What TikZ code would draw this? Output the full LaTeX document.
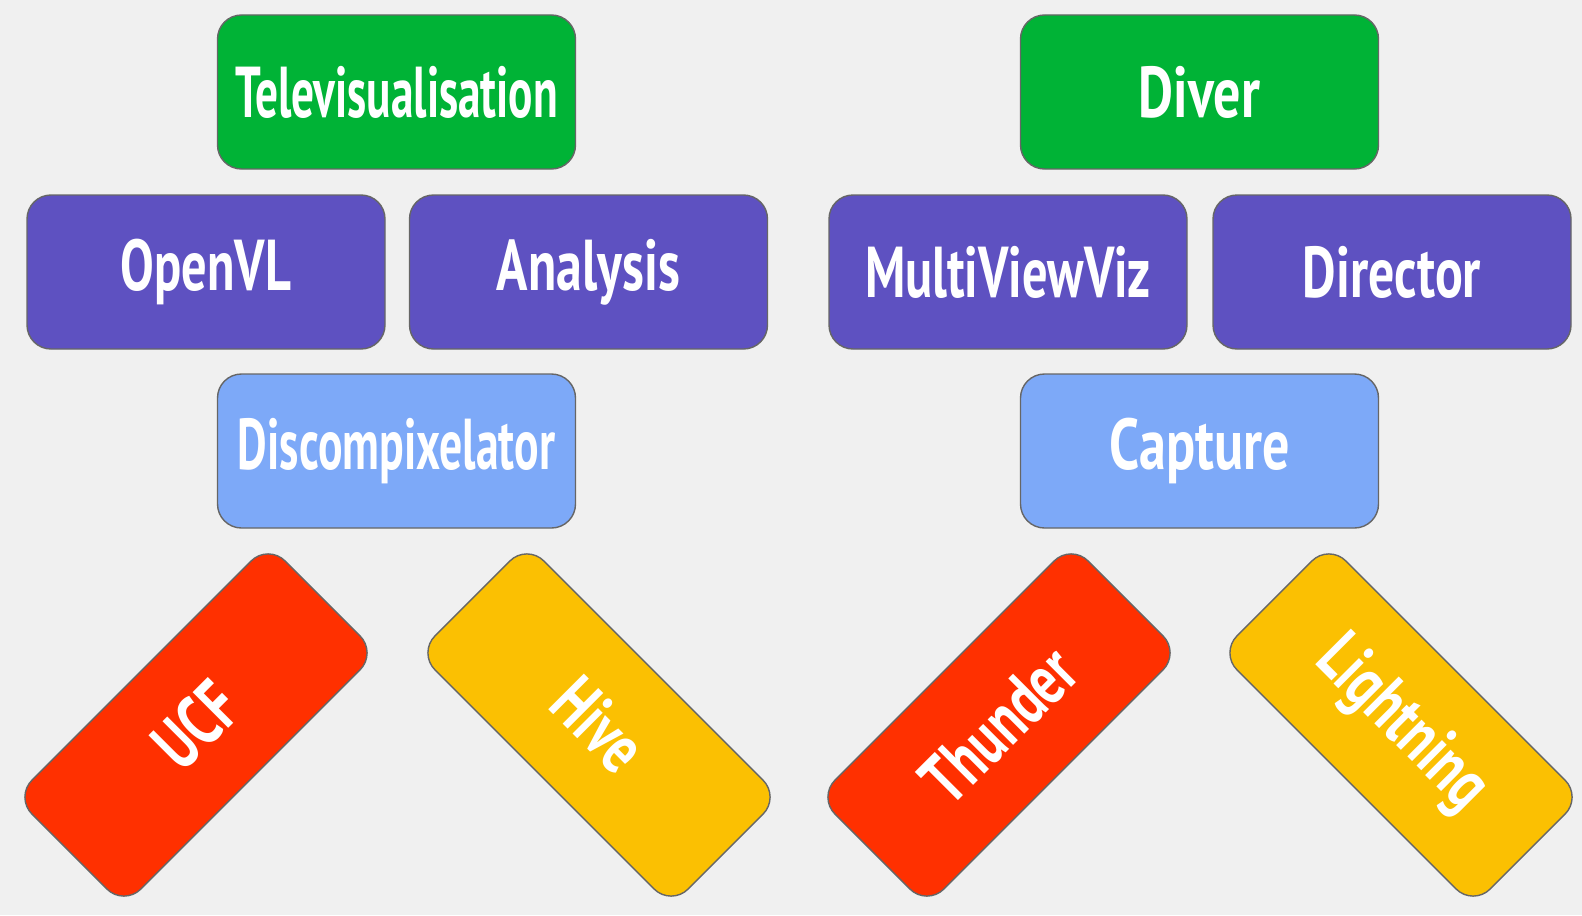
\documentclass[tikz,border=0pt]{standalone}
\usepackage{fontspec}
\setmainfont{PT Sans}
\usetikzlibrary{positioning}

\definecolor{bg}{HTML}{F0F0F0}
\definecolor{topgreen}{HTML}{00B336}
\definecolor{midpurple}{HTML}{5E51C1}
\definecolor{lowblue}{HTML}{7DA9F8}
\definecolor{basered}{HTML}{FF3000}
\definecolor{baseyellow}{HTML}{FBC002}

% condensed look of the labels
\newcommand{\narrow}[2][0.72]{\scalebox{#1}[1]{#2}}

\begin{document}
\begin{tikzpicture}[x=0.5pt,y=-0.5pt,
    box/.style={draw=black!60,line width=0.7pt,rounded corners=12pt,
      minimum width=179pt,minimum height=77pt,inner sep=0pt,text=white,
      font=\fontsize{36}{40}\selectfont\bfseries},
    app/.style={box,fill=topgreen},
    tool/.style={box,fill=midpurple},
    core/.style={box,fill=lowblue},
    hw/.style={box,fill=basered},
    sw/.style={box,fill=baseyellow}]

            \fill[bg] (0,0) rectangle (1582,915);
            \useasboundingbox (0,0) rectangle (1582,915);

            % left stack
            \node[app] (tv) at (396.5,92) {\narrow[0.63]{Televisualisation}};

            \node[tool] (openvl) at (206,272) {\narrow[0.7]{OpenVL}};

            \node[tool] (analysis) at (588.5,272) {\narrow{Analysis}};

            \node[core] (discomp) at (396.5,451) {\narrow[0.635]{Discompixelator}};

            \node[hw,rotate=45] (ucf) at (196,725) {\narrow{UCF}};

            \node[sw,rotate=-45] (hive) at (599,725) {\narrow{Hive}};

            % right stack
            \node[app] (diver) at (1199.5,92) {\narrow[0.75]{Diver}};

            \node[tool] (mvv) at (1008,272) {\narrow[0.7]{MultiViewViz}};

            \node[tool] (director) at (1392,272) {\narrow{Director}};

            \node[core] (capture) at (1199.5,451) {\narrow[0.75]{Capture}};

            \node[hw,rotate=45] (thunder) at (999,725) {\narrow{Thunder}};

            \node[sw,rotate=-45] (lightning) at (1401,725) {\narrow{Lightning}};

        \end{tikzpicture}
\end{document}
